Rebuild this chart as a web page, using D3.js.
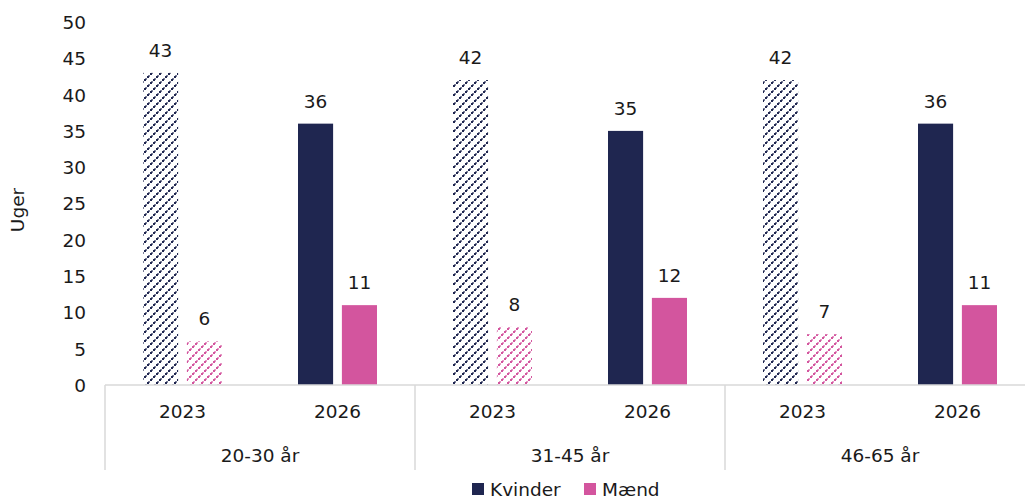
<!DOCTYPE html>
<html><head><meta charset="utf-8">
<script src="https://cdn.jsdelivr.net/npm/d3@7"></script>
<style>
body{margin:0;background:#fff;}
svg text{font-family:"DejaVu Sans",sans-serif;fill:#1a1a1a;}
</style></head>
<body><svg id="c" width="1025" height="500"></svg>
<script>
const groups = ["20-30 år","31-45 år","46-65 år"];
const years = ["2023","2026"];
const kvinder = [43,36,42,35,42,36];
const maend = [6,11,8,12,7,11];
const yTicks = [0,5,10,15,20,25,30,35,40,45,50];
const seriesNames = ["Kvinder","Mænd"];
const colors = {Kvinder:"#1f2650", "Mænd":"#d3559e"};

const svg = d3.select("#c");
const plotL = 105, plotR = 1035, plotT = 22, plotB = 385;
const fs = "18.5px";

const defs = svg.append("defs");
function hatch(id, col){
  const p = defs.append("pattern").attr("id",id).attr("patternUnits","userSpaceOnUse")
    .attr("width",9).attr("height",9);
  [[0,7],[3,4],[6,1]].forEach(([a,b])=>{
    p.append("rect").attr("x",a).attr("y",b).attr("width",2).attr("height",2).attr("fill",col)
      .attr("shape-rendering","crispEdges");
  });
  [[1,6],[4,3],[7,0]].forEach(([a,b])=>{
    p.append("rect").attr("x",a).attr("y",b).attr("width",1.5).attr("height",1.5).attr("fill",col).attr("opacity",0.6)
      .attr("shape-rendering","crispEdges");
  });
}
hatch("hK", colors.Kvinder);
hatch("hM", colors["Mænd"]);

const y = d3.scaleLinear().domain([0,50]).range([plotB, plotT]);
const xg = d3.scaleBand().domain(groups).range([plotL,plotR]);
const xy = d3.scaleBand().domain(years).range([0, xg.bandwidth()]);
const xs = d3.scaleBand().domain(seriesNames).range([xy.bandwidth()/2-39.5, xy.bandwidth()/2+39.5]).paddingInner(0.2);

// y axis
const yAxis = d3.axisLeft(y).tickValues(yTicks).tickSize(0).tickPadding(0);
const ya = svg.append("g").attr("transform",`translate(86,0)`).call(yAxis);
ya.select(".domain").remove();
ya.selectAll("text").style("font-size",fs).style("font-family","DejaVu Sans").attr("dy","0.35em").attr("fill","#1a1a1a");

svg.append("text").attr("transform","translate(24,210) rotate(-90)")
  .attr("text-anchor","middle").style("font-size",fs).text("Uger");

// data rows
const rows = [];
groups.forEach((g,gi)=>years.forEach((yr,yi)=>{
  const i = gi*2+yi;
  rows.push({g, yr, s:"Kvinder", v:kvinder[i]});
  rows.push({g, yr, s:"Mænd", v:maend[i]});
}));

const bx = d => xg(d.g) + xy(d.yr) + xs(d.s);
svg.append("g").selectAll("rect").data(rows).join("rect")
  .attr("x", bx).attr("width", xs.bandwidth())
  .attr("y", d=>y(d.v)).attr("height", d=>y(0)-y(d.v))
  .attr("fill", d=> d.yr==="2023" ? (d.s==="Kvinder"?"url(#hK)":"url(#hM)") : colors[d.s]);

svg.append("g").selectAll("text").data(rows).join("text")
  .attr("x", d=>bx(d)+xs.bandwidth()/2).attr("y", d=>y(d.v)-16)
  .attr("text-anchor","middle").style("font-size",fs).text(d=>d.v);

// x axis line and separators
const axisG = svg.append("g").attr("stroke","#d9d9d9").attr("stroke-width",1.5);
axisG.append("line").attr("x1",plotL).attr("x2",plotR).attr("y1",plotB).attr("y2",plotB);
groups.forEach(g=>{
  axisG.append("line").attr("x1",xg(g)).attr("x2",xg(g)).attr("y1",plotB).attr("y2",470);
});

// category labels
groups.forEach(g=>{
  years.forEach(yr=>{
    svg.append("text").attr("x", xg(g)+xy(yr)+xy.bandwidth()/2).attr("y",418)
      .attr("text-anchor","middle").style("font-size",fs).text(yr);
  });
  svg.append("text").attr("x", xg(g)+xg.bandwidth()/2).attr("y",462)
    .attr("text-anchor","middle").style("font-size",fs).text(g);
});

// legend
const leg = svg.append("g");
const legX = [472, 584];
seriesNames.forEach((s,i)=>{
  leg.append("rect").attr("x",legX[i]).attr("y",483).attr("width",12).attr("height",12).attr("fill",colors[s]);
  leg.append("text").attr("x",legX[i]+18).attr("y",496).style("font-size",fs).text(s);
});
</script></body></html>
